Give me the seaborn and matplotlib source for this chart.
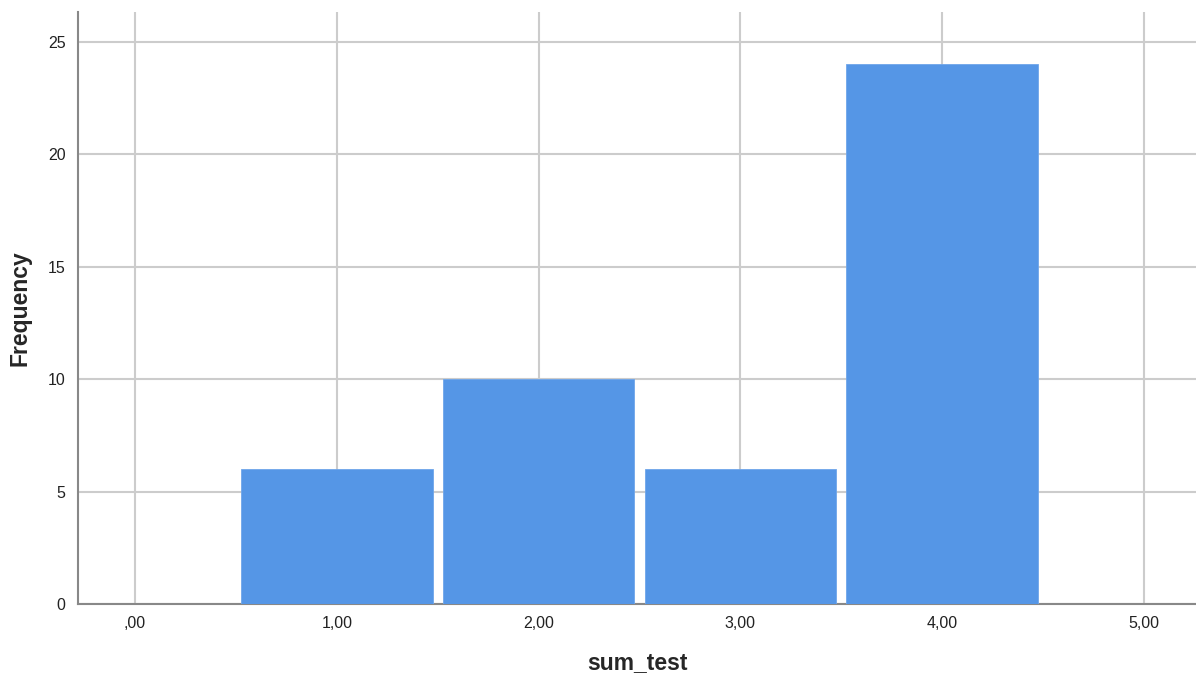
import matplotlib
matplotlib.use("Agg")
import matplotlib.pyplot as plt
import seaborn as sns
import pandas as pd

categories = [1, 2, 3, 4]
counts = [6, 10, 6, 24]
x_ticks = [0, 1, 2, 3, 4, 5]
x_tick_labels = [",00", "1,00", "2,00", "3,00", "4,00", "5,00"]
y_ticks = [0, 5, 10, 15, 20, 25]

sns.set_theme(style="white")
plt.rcParams['font.family'] = ['Liberation Sans', 'DejaVu Sans']

df = pd.DataFrame({"sum_test": categories, "count": counts})

fig = plt.figure(figsize=(11.96, 6.77), dpi=100)
ax = fig.add_axes([78/1196, 1-604/677, 1-78/1196, (604-12)/677])

sns.histplot(data=df, x="sum_test", weights="count", discrete=True, shrink=0.95,
             color="#5596E6", alpha=1.0, edgecolor="#6fa6ea", linewidth=0.6, ax=ax,
             zorder=3)

ax.set_xlim(-0.2825, 5.258)
ax.set_ylim(0, 26.33)
ax.set_xticks(x_ticks)
ax.set_xticklabels(x_tick_labels)
ax.set_yticks(y_ticks)
ax.grid(True, color="#cccccc", linewidth=1.5, zorder=0)
ax.set_axisbelow(True)
for s in ["top", "right"]:
    ax.spines[s].set_visible(False)
ax.spines["left"].set_color("#888888")
ax.spines["bottom"].set_color("#888888")
ax.spines["left"].set_linewidth(1.5)
ax.spines["bottom"].set_linewidth(1.5)
ax.tick_params(axis="both", length=0, labelsize=11.5, colors="#222222", pad=9)
ax.set_xlabel("sum_test", fontsize=16.5, fontweight="bold", labelpad=14)
ax.set_ylabel("Frequency", fontsize=16.5, fontweight="bold", labelpad=12)

fig.savefig("out.png", dpi=100)
